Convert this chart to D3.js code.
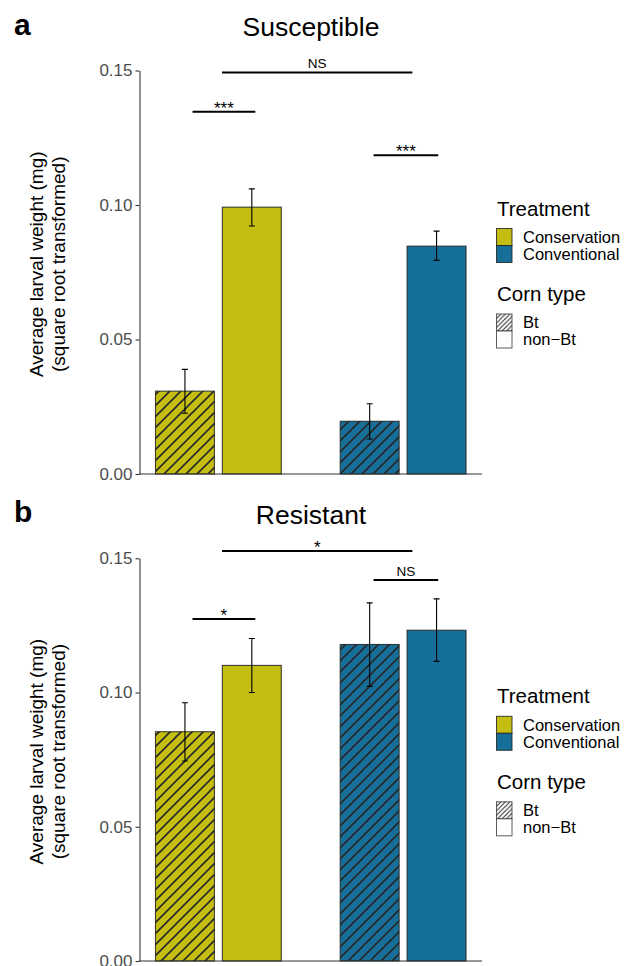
<!DOCTYPE html>
<html>
<head>
<meta charset="utf-8">
<script src="https://cdn.jsdelivr.net/npm/d3@7"></script>
<style>
  body { margin: 0; background: #fff; }
  text { font-family: "Liberation Sans", Arial, sans-serif; }
</style>
</head>
<body>
<script>
// categories
const treatments = ["Conservation", "Conventional"];
const cornTypes = ["Bt", "non-Bt"];
const treatmentColors = ["#c4be12", "#166f99"];
const yTicks = [0, 0.05, 0.10, 0.15];

// values, order: Conservation-Bt, Conservation-nonBt, Conventional-Bt, Conventional-nonBt
const susceptibleMean = [0.0308, 0.0992, 0.0196, 0.0847];
const susceptibleLow  = [0.0226, 0.0922, 0.0130, 0.0794];
const susceptibleHigh = [0.0389, 0.1060, 0.0261, 0.0903];

const resistantMean = [0.0854, 0.1101, 0.1179, 0.1232];
const resistantLow  = [0.0745, 0.1000, 0.1023, 0.1116];
const resistantHigh = [0.0962, 0.1201, 0.1334, 0.1349];

// significance brackets (x in group units: 1 = Conservation, 2 = Conventional)
const susceptibleSigFrom  = [0.86, 1.02, 1.84];
const susceptibleSigTo    = [1.20, 2.05, 2.19];
const susceptibleSigY     = [0.1347, 0.1493, 0.1185];
const susceptibleSigLabel = ["***", "NS", "***"];

const resistantSigFrom  = [0.86, 1.02, 1.84];
const resistantSigTo    = [1.20, 2.05, 2.19];
const resistantSigY     = [0.1274, 0.1527, 0.1419];
const resistantSigLabel = ["*", "*", "NS"];

const svg = d3.select("body").append("svg")
  .attr("width", 638).attr("height", 966);

// hatch patterns for Bt (bars, and a finer one for legend keys)
let defs = svg.append("defs");
function hatch(id, s, w) {
  defs.append("pattern")
    .attr("id", id)
    .attr("patternUnits", "userSpaceOnUse")
    .attr("width", s).attr("height", s)
    .append("path")
    .attr("d", "M" + (-s / 4) + "," + (s / 4) + " l" + (s / 2) + "," + (-s / 2) +
      " M0," + s + " l" + s + "," + (-s) +
      " M" + (s * 3 / 4) + "," + (s * 5 / 4) + " l" + (s / 2) + "," + (-s / 2))
    .attr("stroke", "#262626")
    .attr("stroke-width", w);
}
hatch("hatch", 11, 1.6);
hatch("hatchKey", 4.5, 1);

const panels = [
  { letter: "a", title: "Susceptible", top: 70.5, bottom: 474,
    mean: susceptibleMean, low: susceptibleLow, high: susceptibleHigh,
    sigFrom: susceptibleSigFrom, sigTo: susceptibleSigTo, sigY: susceptibleSigY, sigLabel: susceptibleSigLabel },
  { letter: "b", title: "Resistant", top: 558.3, bottom: 961,
    mean: resistantMean, low: resistantLow, high: resistantHigh,
    sigFrom: resistantSigFrom, sigTo: resistantSigTo, sigY: resistantSigY, sigLabel: resistantSigLabel }
];

const left = 139.5, right = 482;

panels.forEach(function(p) {
  let g = svg.append("g");

  let y = d3.scaleLinear().domain([0, 0.15]).range([p.bottom, p.top]);
  let xGroup = d3.scaleBand().domain(treatments).range([left, right])
    .paddingInner(0.319).paddingOuter(0.0865);
  let xCorn = d3.scaleBand().domain(cornTypes).range([0, xGroup.bandwidth()])
    .paddingInner(0.119).paddingOuter(0);
  let xc = d3.scaleLinear().domain([1, 2])
    .range([xGroup(treatments[0]) + xGroup.bandwidth() / 2, xGroup(treatments[1]) + xGroup.bandwidth() / 2]);

  let rows = [];
  treatments.forEach(function(t, ti) {
    cornTypes.forEach(function(c, ci) {
      let i = ti * 2 + ci;
      rows.push({ t: t, ti: ti, c: c, mean: p.mean[i], low: p.low[i], high: p.high[i] });
    });
  });

  // bars
  let bars = g.selectAll("g.bar").data(rows).enter().append("g").attr("class", "bar");
  bars.append("rect")
    .attr("x", d => xGroup(d.t) + xCorn(d.c))
    .attr("y", d => y(d.mean))
    .attr("width", xCorn.bandwidth())
    .attr("height", d => y(0) - y(d.mean))
    .attr("fill", d => treatmentColors[d.ti]);
  bars.filter(d => d.c === "Bt").append("rect")
    .attr("x", d => xGroup(d.t) + xCorn(d.c))
    .attr("y", d => y(d.mean))
    .attr("width", xCorn.bandwidth())
    .attr("height", d => y(0) - y(d.mean))
    .attr("fill", "url(#hatch)");
  bars.append("rect")
    .attr("x", d => xGroup(d.t) + xCorn(d.c))
    .attr("y", d => y(d.mean))
    .attr("width", xCorn.bandwidth())
    .attr("height", d => y(0) - y(d.mean))
    .attr("fill", "none")
    .attr("stroke", "#222")
    .attr("stroke-opacity", 0.85)
    .attr("stroke-width", 1.1);

  // error bars
  let cx = d => xGroup(d.t) + xCorn(d.c) + xCorn.bandwidth() / 2;
  bars.append("path")
    .attr("d", d => "M" + (cx(d) - 3) + "," + y(d.high) + "h6M" + cx(d) + "," + y(d.high) +
      "V" + y(d.low) + "M" + (cx(d) - 3) + "," + y(d.low) + "h6")
    .attr("fill", "none")
    .attr("stroke", "#000")
    .attr("stroke-width", 1.1);

  // axes
  let yAxis = g.append("g")
    .attr("transform", "translate(" + left + ",0)")
    .call(d3.axisLeft(y).tickValues(yTicks).tickFormat(d3.format(".2f")).tickSize(4).tickSizeOuter(0).tickPadding(3));
  yAxis.selectAll("path, line").attr("stroke", "#333").attr("stroke-width", 1.1);
  yAxis.selectAll("text").attr("fill", "#4d4d4d").style("font-size", "17px")
    .style("font-family", "'Liberation Sans', Arial, sans-serif");

  g.append("line")
    .attr("x1", left - 0.5).attr("x2", right)
    .attr("y1", y(0)).attr("y2", y(0))
    .attr("stroke", "#333").attr("stroke-width", 1.1);

  // significance brackets
  let sig = p.sigFrom.map((f, i) => ({ from: f, to: p.sigTo[i], y: p.sigY[i], label: p.sigLabel[i] }));
  let sg = g.selectAll("g.sig").data(sig).enter().append("g").attr("class", "sig");
  sg.append("line")
    .attr("x1", d => xc(d.from)).attr("x2", d => xc(d.to))
    .attr("y1", d => y(d.y)).attr("y2", d => y(d.y))
    .attr("stroke", "#000").attr("stroke-width", 2);
  sg.append("text")
    .attr("x", d => (xc(d.from) + xc(d.to)) / 2)
    .attr("y", d => y(d.y) + (d.label === "NS" ? -4 : 2))
    .attr("text-anchor", "middle")
    .style("font-size", d => d.label === "NS" ? "13.5px" : "17px")
    .text(d => d.label);

  // titles
  g.append("text")
    .attr("x", 311).attr("y", p.top - 34.5)
    .attr("text-anchor", "middle")
    .style("font-size", "26.5px")
    .text(p.title);
  g.append("text")
    .attr("x", 14).attr("y", p.top - 36)
    .style("font-size", "30px").style("font-weight", "bold")
    .text(p.letter);

  // y label
  let cy = (p.top + p.bottom) / 2 - 8;
  g.append("text")
    .attr("transform", "translate(43," + cy + ") rotate(-90)")
    .attr("text-anchor", "middle")
    .style("font-size", "19px")
    .text("Average larval weight (mg)");
  g.append("text")
    .attr("transform", "translate(64.5," + cy + ") rotate(-90)")
    .attr("text-anchor", "middle")
    .style("font-size", "19px")
    .text("(square root transformed)");

  // legend
  let lg = g.append("g").attr("transform", "translate(496," + (p.top + 145) + ")");
  lg.append("text").attr("x", 1).attr("y", 0).style("font-size", "20.5px").text("Treatment");
  treatments.forEach(function(t, i) {
    lg.append("rect")
      .attr("x", 0.5).attr("y", 13 + i * 17)
      .attr("width", 15.5).attr("height", 17)
      .attr("fill", treatmentColors[i])
      .attr("stroke", "#222").attr("stroke-opacity", 0.85);
    lg.append("text")
      .attr("x", 27).attr("y", 13 + i * 17 + 8.5)
      .attr("dy", "0.35em")
      .style("font-size", "16.5px")
      .text(t);
  });
  lg.append("text").attr("x", 1).attr("y", 85.5).style("font-size", "20.5px").text("Corn type");
  cornTypes.forEach(function(c, i) {
    lg.append("rect")
      .attr("x", 0.5).attr("y", 98.5 + i * 17)
      .attr("width", 15.5).attr("height", 17)
      .attr("fill", c === "Bt" ? "url(#hatchKey)" : "#fff")
      .attr("stroke", "#333").attr("stroke-opacity", 0.8);
    lg.append("text")
      .attr("x", 27).attr("y", 98.5 + i * 17 + 8.5)
      .attr("dy", "0.35em")
      .style("font-size", "16.5px")
      .text(c === "non-Bt" ? "non\u2212Bt" : c);
  });
});
</script>
</body>
</html>
